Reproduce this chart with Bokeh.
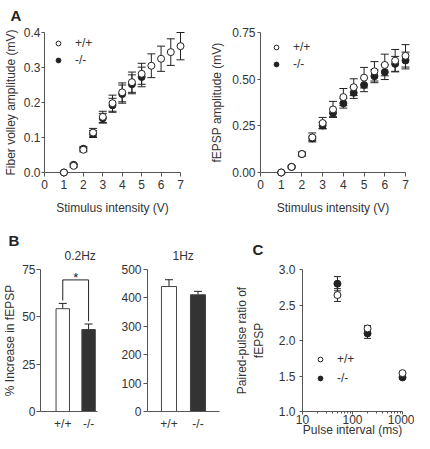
from bokeh.plotting import figure
from bokeh.layouts import row, column
from bokeh.models import (Range1d, FixedTicker, Whisker, ColumnDataSource, Legend,
                          LegendItem, Title, NumeralTickFormatter, PrintfTickFormatter, TeeHead)
from bokeh.embed import file_html
from bokeh.resources import INLINE

FONT = "Liberation Sans"
AX = "#555555"
TXT = "#333333"
DARK = "#222222"

# ---------------- data ----------------
stim = [1.0, 1.5, 2.0, 2.5, 3.0, 3.5, 4.0, 4.5, 5.0, 5.5, 6.0, 6.5, 7.0]
stim_ko_fv = [1.0, 1.5, 2.0, 2.5, 3.0, 3.5, 4.0, 4.5, 5.0]

fv_wt = [0.000, 0.019, 0.065, 0.114, 0.159, 0.198, 0.229, 0.258, 0.282, 0.305, 0.325, 0.344, 0.361]
fv_wt_err = [0.002, 0.004, 0.006, 0.012, 0.016, 0.023, 0.027, 0.029, 0.030, 0.034, 0.036, 0.038, 0.039]
fv_ko = [0.000, 0.022, 0.068, 0.110, 0.155, 0.192, 0.224, 0.252, 0.273]
fv_ko_err = [0.002, 0.004, 0.006, 0.010, 0.014, 0.020, 0.026, 0.027, 0.028]

ep_wt = [0.000, 0.030, 0.099, 0.188, 0.265, 0.338, 0.404, 0.457, 0.508, 0.542, 0.576, 0.599, 0.625]
ep_wt_err = [0.004, 0.006, 0.010, 0.024, 0.030, 0.043, 0.046, 0.045, 0.055, 0.052, 0.058, 0.060, 0.060]
ep_ko = [0.000, 0.030, 0.099, 0.182, 0.252, 0.319, 0.371, 0.427, 0.469, 0.516, 0.538, 0.582, 0.600]
ep_ko_err = [0.004, 0.006, 0.010, 0.012, 0.018, 0.020, 0.026, 0.030, 0.036, 0.035, 0.040, 0.040, 0.045]

genotypes = ["+/+", "-/-"]
inc_02hz = [54.3, 43.3]
inc_02hz_err = [2.8, 2.9]
inc_1hz = [440.0, 411.0]
inc_1hz_err = [24.0, 12.0]

intervals = [50, 200, 1000]
ppr_wt = [2.64, 2.17, 1.54]
ppr_wt_err = [0.09, 0.04, 0.02]
ppr_ko = [2.80, 2.10, 1.48]
ppr_ko_err = [0.10, 0.07, 0.02]

a_xticks = [0, 1, 2, 3, 4, 5, 6, 7]
a1_yticks = [0.0, 0.1, 0.2, 0.3, 0.4]
a2_yticks = [0.0, 0.25, 0.5, 0.75]
b1_yticks = [0, 25, 50, 75]
b2_yticks = [0, 100, 200, 300, 400, 500]
c_xticks = [10, 100, 1000]
c_yticks = [1.0, 1.5, 2.0, 2.5, 3.0]


def make_fig(w, h, xr, yr, borders, **kw):
    l, r, t, b = borders
    p = figure(width=w, height=h, x_range=xr, y_range=yr, output_backend="svg",
               toolbar_location=None, min_border_left=l, min_border_right=r,
               min_border_top=t, min_border_bottom=b, **kw)
    p.outline_line_color = None
    p.grid.visible = False
    p.background_fill_color = "white"
    p.border_fill_color = "white"
    for ax in (p.xaxis[0], p.yaxis[0]):
        ax.axis_line_color = AX
        ax.major_tick_line_color = AX
        ax.minor_tick_line_color = None
        ax.major_tick_in = 0
        ax.major_tick_out = 4
        ax.major_label_text_font = FONT
        ax.major_label_text_font_size = "12px"
        ax.major_label_text_color = TXT
        ax.axis_label_text_font = FONT
        ax.axis_label_text_font_size = "12px"
        ax.axis_label_text_font_style = "normal"
        ax.axis_label_text_color = TXT
    return p


def style_title(t, offset, standoff, size="12px", bold=False):
    # offset is measured from the frame's left edge
    t.align = "left"
    t.offset = offset
    t.standoff = standoff
    t.text_font = FONT
    t.text_font_size = size
    t.text_font_style = "bold" if bold else "normal"
    t.text_color = DARK if bold else TXT


def add_title(p, text, offset, standoff, size="12px", bold=False):
    t = Title(text=text)
    style_title(t, offset, standoff, size, bold)
    p.add_layout(t, "above")


def add_errs(p, xs, ys, errs, size=8):
    lo = [v - e for v, e in zip(ys, errs)]
    hi = [v + e for v, e in zip(ys, errs)]
    p.segment(x0=xs, y0=lo, x1=xs, y1=hi, line_color=DARK, line_width=1, level="overlay")
    p.scatter(xs + xs, lo + hi, marker="dash", size=size, line_color=DARK, line_width=1,
              level="overlay")


def add_points(p, xs, ys, filled):
    return p.scatter(xs, ys, marker="circle", size=7, line_color=DARK, line_width=1,
                     fill_color=DARK if filled else "white", level="overlay")


def add_legend(p, r_wt, r_ko, loc, margin=0, gw=12, standoff=11, spacing=3):
    leg = Legend(items=[LegendItem(label="+/+", renderers=[r_wt]),
                        LegendItem(label="-/-", renderers=[r_ko])],
                 location=loc, padding=0, margin=margin, spacing=spacing, glyph_width=gw,
                 glyph_height=12, label_height=12, label_standoff=standoff,
                 border_line_color=None, background_fill_alpha=0,
                 label_text_font=FONT, label_text_font_size="12px", label_text_color=TXT)
    p.add_layout(leg)


# ---------------- A1 ----------------
a1 = make_fig(207, 226, Range1d(0, 7), Range1d(0, 0.4), (36, 27, 29, 54))
add_title(a1, " ", 0, 0, size="2px")
add_title(a1, "A", -34, 9, size="15px", bold=True)
a1.xaxis.ticker = FixedTicker(ticks=a_xticks)
a1.yaxis.ticker = FixedTicker(ticks=a1_yticks)
a1.yaxis.formatter = NumeralTickFormatter(format="0.0")
a1.xaxis.axis_label = "Stimulus intensity (V)"
a1.yaxis.axis_label = "Fiber volley amplitude (mV)"
a1.xaxis.major_label_standoff = 3
a1.xaxis.axis_label_standoff = 9
a1.yaxis.major_tick_out = 3
a1.yaxis.major_label_standoff = 1
a1.yaxis.axis_label_standoff = 3
add_errs(a1, stim_ko_fv, fv_ko, fv_ko_err)
r_ko = add_points(a1, stim_ko_fv, fv_ko, True)
add_errs(a1, stim, fv_wt, fv_wt_err)
r_wt = add_points(a1, stim, fv_wt, False)
add_legend(a1, r_wt, r_ko, "top_left", margin=4, gw=20, standoff=7)

# ---------------- A2 ----------------
a2 = make_fig(207, 226, Range1d(0, 7), Range1d(0, 0.75), (50, 9, 28, 54))
a2.xaxis.ticker = FixedTicker(ticks=a_xticks)
a2.yaxis.ticker = FixedTicker(ticks=a2_yticks)
a2.yaxis.formatter = NumeralTickFormatter(format="0.00")
a2.xaxis.axis_label = "Stimulus intensity (V)"
a2.yaxis.axis_label = "fEPSP amplitude (mV)"
a2.xaxis.major_label_standoff = 3
a2.xaxis.axis_label_standoff = 9
a2.yaxis.major_tick_out = 3
a2.yaxis.major_label_standoff = 2
a2.yaxis.axis_label_standoff = 5
add_errs(a2, stim, ep_ko, ep_ko_err)
r_ko2 = add_points(a2, stim, ep_ko, True)
add_errs(a2, stim, ep_wt, ep_wt_err)
r_wt2 = add_points(a2, stim, ep_wt, False)
add_legend(a2, r_wt2, r_ko2, "top_left", margin=8, gw=16, standoff=9)

# ---------------- B ----------------
gpos = [i + 1 for i in range(len(genotypes))]
labels_over = {p_: g for p_, g in zip(gpos, genotypes)}
bar_fill = ["white", "#333333"]


def bar_panel(w, xr, yr, borders, vals, errs, yticks, title, title_offset):
    p = make_fig(w, 220, xr, yr, borders)
    add_title(p, title, title_offset, 14)
    p.xaxis.ticker = FixedTicker(ticks=gpos)
    p.xaxis.major_label_overrides = labels_over
    p.xaxis.major_tick_out = 0
    p.xaxis.major_label_standoff = 5
    p.yaxis.ticker = FixedTicker(ticks=yticks)
    p.yaxis.major_label_standoff = 2
    src = ColumnDataSource(dict(x=gpos, lo=vals, hi=[v + e for v, e in zip(vals, errs)]))
    p.add_layout(Whisker(source=src, base="x", lower="lo", upper="hi", line_color=DARK,
                         upper_head=TeeHead(size=8, line_color=DARK), lower_head=None))
    p.vbar(x=gpos, top=vals, width=0.52, fill_color=bar_fill, line_color="#444444",
           line_width=1)
    return p


b1 = bar_panel(117, Range1d(0.138, 2.345), Range1d(0, 75), (33, 20, 42, 35),
               inc_02hz, inc_02hz_err, b1_yticks, "0.2Hz", 24)
add_title(b1, "B", -32, -18, size="15px", bold=True)
b1.yaxis.axis_label = "% Increase in fEPSP"
b1.yaxis.axis_label_standoff = 2
b1.yaxis.major_label_standoff = 1
bracket_top = 69.5
b1.line(x=[gpos[0], gpos[0], gpos[1], gpos[1]],
        y=[inc_02hz[0] + inc_02hz_err[0] + 1.5, bracket_top, bracket_top,
           inc_02hz[1] + inc_02hz_err[1] + 1.5],
        line_color=DARK, line_width=1)
b1.text(x=[(gpos[0] + gpos[1]) / 2], y=[bracket_top + 1.3], text=["*"], text_align="center",
        text_baseline="middle", text_font_size="13px", text_color=DARK)

b2 = bar_panel(115, Range1d(0.259, 2.741), Range1d(0, 500), (30, 13, 42, 35),
               inc_1hz, inc_1hz_err, b2_yticks, "1Hz", 25)

# ---------------- C ----------------
c = make_fig(182, 220, Range1d(10, 1000), Range1d(1, 3), (65, 12, 42, 34), x_axis_type="log")
add_title(c, "C", -50, 24, size="15px", bold=True)
c.xaxis.ticker = FixedTicker(ticks=c_xticks,
                             minor_ticks=[m * d for d in (10, 100) for m in range(2, 10)])
c.xaxis.formatter = PrintfTickFormatter(format="%d")
c.xaxis.minor_tick_line_color = AX
c.xaxis.minor_tick_in = 0
c.xaxis.minor_tick_out = 2
c.xaxis.major_tick_out = 3
c.xaxis.major_label_standoff = 0
c.xaxis.axis_label_standoff = -4
c.xaxis.axis_label = "Pulse interval (ms)"
c.yaxis.ticker = FixedTicker(ticks=c_yticks)
c.yaxis.formatter = NumeralTickFormatter(format="0.0")
c.yaxis.major_tick_out = 3
c.yaxis.major_label_standoff = 4
c.yaxis.axis_label = "Paired-pulse ratio of\nfEPSP"
c.yaxis.axis_label_standoff = 10
add_errs(c, intervals, ppr_ko, ppr_ko_err, size=7)
r_koc = add_points(c, intervals, ppr_ko, True)
add_errs(c, intervals, ppr_wt, ppr_wt_err, size=7)
r_wtc = add_points(c, intervals, ppr_wt, False)
add_legend(c, r_wtc, r_koc, (12, 26), spacing=5)

layout = column(row(a1, a2), row(b1, b2, c))
open("out.html", "w").write(file_html(layout, INLINE))
